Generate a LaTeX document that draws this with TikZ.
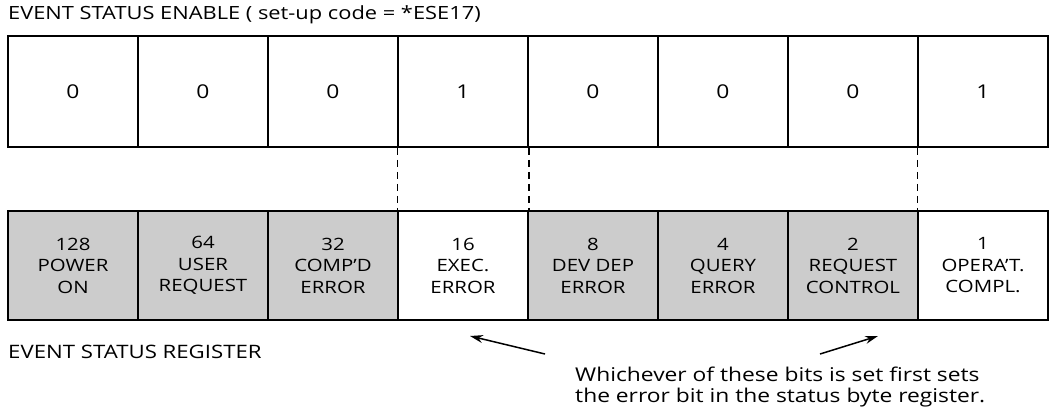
\documentclass[tikz,border=0pt]{standalone}
\usepackage{fontspec}
\setmainfont[FakeStretch=1.2]{Open Sans}
\usetikzlibrary{arrows.meta}
\tikzset{
  enbit/.style={draw, line width=1.5pt, minimum width=130bp, minimum height=111bp, inner sep=0pt, font=\fontsize{19bp}{22bp}\selectfont},
  regbit/.style={draw, line width=1.5pt, minimum width=130bp, minimum height=109bp, inner sep=0pt, align=center, font=\fontsize{17bp}{21.5bp}\selectfont},
  setbit/.style={regbit, fill=white},
  maskbit/.style={regbit, fill=gray!40},
  link/.style={line width=1.5pt, dash pattern=on 7bp off 5bp},
  pointer/.style={line width=1.5pt, -{Stealth[length=13bp, width=8bp]}}
}
\begin{document}
\begin{tikzpicture}[x=1bp, y=-1bp]
\clip (0,0) rectangle (1055,412);
\node[anchor=west, inner sep=0pt, font=\fontsize{18.2bp}{20bp}\selectfont] (entitle) at (8,15) {EVENT STATUS ENABLE ( set-up code = *ESE17)};
\node[enbit] (en7) at (73,91.5) {0};
\node[enbit] (en6) at (203,91.5) {0};
\node[enbit] (en5) at (333,91.5) {0};
\node[enbit] (en4) at (463,91.5) {1};
\node[enbit] (en3) at (593,91.5) {0};
\node[enbit] (en2) at (723,91.5) {0};
\node[enbit] (en1) at (853,91.5) {0};
\node[enbit] (en0) at (983,91.5) {1};
\node[maskbit] (reg7) at (73,265.5) {128\\POWER\\ON};
\node[maskbit] (reg6) at (203,265.5) {64\\USER\\REQUEST};
\node[maskbit] (reg5) at (333,265.5) {32\\COMP'D\\ERROR};
\node[setbit] (reg4) at (463,265.5) {16\\EXEC.\\ERROR};
\node[maskbit] (reg3) at (593,265.5) {8\\DEV DEP\\ERROR};
\node[maskbit] (reg2) at (723,265.5) {4\\QUERY\\ERROR};
\node[maskbit] (reg1) at (853,265.5) {2\\REQUEST\\CONTROL};
\node[setbit] (reg0) at (983,265.5) {1\\OPERA'T.\\COMPL.};
\draw[link] (en4.south west) -- (reg4.north west);
\draw[link] (en4.south east) -- (reg4.north east);
\draw[link] (en0.south west) -- (reg0.north west);
\node[anchor=west, inner sep=0pt, font=\fontsize{18.5bp}{20bp}\selectfont] (regtitle) at (8,352) {EVENT STATUS REGISTER};
\node[anchor=north west, align=left, inner sep=0pt, font=\fontsize{19bp}{21bp}\selectfont] (note) at (575,367) {Whichever of these bits is set first sets\\the error bit in the status byte register.};
\coordinate (tailL) at (545,354);
\coordinate (headL) at (470,336);
\coordinate (tailR) at (820,354);
\coordinate (headR) at (878,336);
\draw[pointer] (tailL) -- (headL);
\draw[pointer] (tailR) -- (headR);
\end{tikzpicture}
\end{document}
